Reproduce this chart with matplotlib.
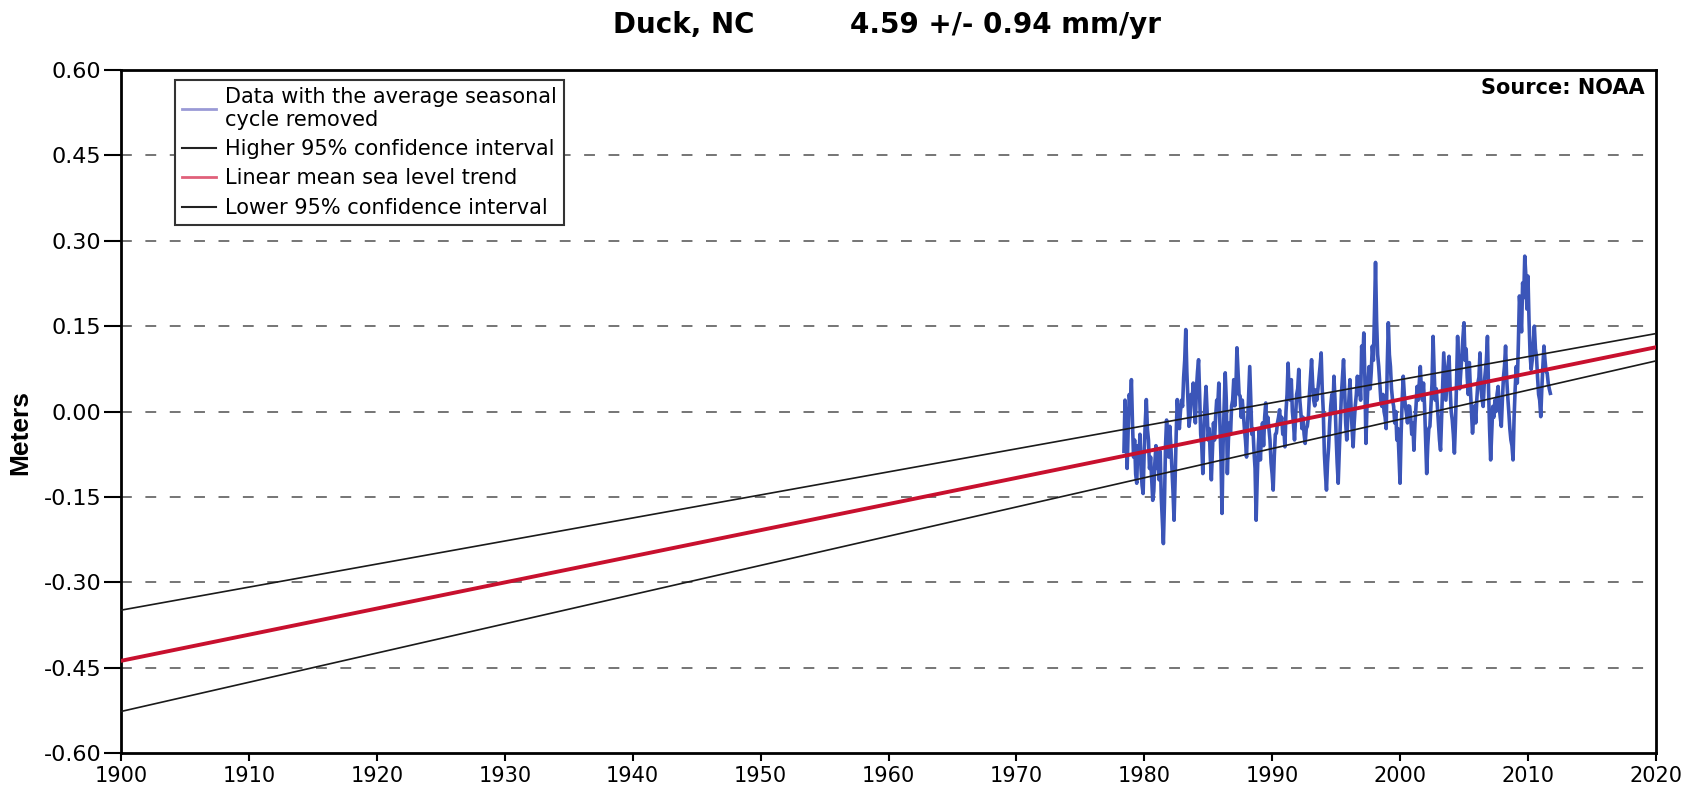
import numpy as np
import matplotlib.pyplot as plt
from matplotlib.lines import Line2D

# monthly mean sea level with the seasonal cycle removed (m)
start_year = 1978.4
sea_level = [
    -0.07, 0.02, -0.04, -0.10,
    -0.03, 0.03, 0.01, 0.056, -0.02, -0.08, -0.05, -0.11, -0.126, -0.06, -0.09, -0.04,
    -0.10, -0.13, -0.144, -0.07, -0.02, 0.021, -0.03, -0.05, -0.10, -0.08, -0.12, -0.156,
    -0.14, -0.09, -0.06, -0.10, -0.08, -0.12, -0.07, -0.15, -0.19, -0.232, -0.16, -0.06,
    -0.015, -0.05, -0.08, -0.026, -0.06, -0.10, -0.14, -0.191, -0.12, -0.04, 0.021, -0.01,
    -0.03, 0.00, 0.02, 0.009, 0.06, 0.09, 0.144, 0.07, 0.02, -0.026, -0.01, 0.03,
    0.02, 0.05, 0.01, -0.02, 0.04, 0.07, 0.091, 0.03, -0.04, -0.06, -0.109, -0.03,
    0.01, 0.044, 0.00, -0.05, -0.03, -0.08, -0.12, -0.07, -0.02, -0.05, -0.01, 0.02,
    0.01, 0.05, -0.02, -0.08, -0.179, -0.06, 0.01, 0.068, 0.02, -0.109, -0.05, -0.02,
    -0.04, 0.01, 0.02, 0.056, 0.01, 0.04, 0.112, 0.07, 0.03, 0.027, -0.01, 0.02,
    -0.003, -0.03, -0.05, -0.08, -0.02, 0.03, 0.079, 0.02, -0.04, -0.03, -0.07, -0.10,
    -0.191, -0.12, -0.06, -0.03, -0.085, -0.04, -0.02, -0.06, -0.01, 0.015, -0.02, -0.01,
    -0.03, -0.05, -0.09, -0.11, -0.138, -0.08, -0.04, -0.038, -0.02, -0.01, 0.003, -0.02,
    -0.01, -0.04, -0.03, -0.062, 0.00, 0.03, 0.085, 0.03, 0.02, 0.056, 0.00, -0.02,
    -0.05, -0.01, 0.03, 0.04, 0.074, 0.02, -0.003, -0.03, -0.01, -0.04, -0.056, -0.03,
    -0.026, -0.01, 0.03, 0.06, 0.091, 0.05, 0.02, 0.01, 0.038, 0.02, 0.04, 0.06,
    0.08, 0.103, 0.04, 0.00, -0.073, -0.11, -0.138, -0.09, -0.062, -0.02, 0.01, 0.03,
    0.00, 0.062, 0.02, -0.04, -0.09, -0.126, -0.07, -0.02, 0.03, 0.06, 0.091, 0.04,
    -0.02, -0.05, -0.01, 0.02, 0.056, 0.01, -0.03, -0.062, -0.02, 0.01, 0.03, 0.062,
    0.03, 0.06, 0.02, 0.115, 0.08, 0.138, 0.06, -0.056, 0.01, 0.05, 0.079, 0.04,
    0.07, 0.115, 0.09, 0.17, 0.262, 0.16, 0.10, 0.079, 0.05, 0.02, 0.009, 0.03,
    0.00, -0.01, -0.03, 0.08, 0.156, 0.10, 0.079, 0.04, 0.02, 0.009, -0.02, 0.00,
    -0.05, -0.03, -0.08, -0.126, -0.04, 0.02, 0.062, 0.03, 0.01, -0.003, -0.02, 0.01,
    0.009, -0.01, -0.04, -0.02, -0.068, -0.02, 0.01, 0.044, 0.02, 0.05, 0.079, 0.04,
    0.02, 0.05, 0.01, -0.05, -0.109, -0.06, -0.03, -0.026, 0.01, 0.05, 0.132, 0.07,
    0.02, 0.04, 0.009, -0.02, -0.05, -0.068, -0.01, 0.05, 0.103, 0.06, 0.02, 0.05,
    0.08, 0.097, 0.04, 0.00, -0.015, -0.04, -0.073, -0.02, 0.05, 0.132, 0.08, 0.04,
    0.07, 0.10, 0.13, 0.156, 0.09, 0.11, 0.06, 0.03, 0.086, 0.04, 0.00, -0.038,
    -0.01, 0.01, -0.02, 0.021, 0.05, 0.06, 0.103, 0.04, 0.02, 0.009, 0.05, 0.07,
    0.09, 0.132, 0.04, -0.03, -0.085, -0.04, 0.009, -0.01, 0.02, 0.00, 0.03, 0.044,
    0.01, -0.01, -0.026, 0.02, 0.06, 0.08, 0.115, 0.06, 0.027, 0.00, -0.03, -0.05,
    -0.06, -0.085, -0.01, 0.04, 0.079, 0.05, 0.12, 0.203, 0.17, 0.14, 0.226, 0.20,
    0.273, 0.24, 0.18, 0.238, 0.16, 0.10, 0.074, 0.09, 0.12, 0.15, 0.11, 0.097,
    0.06, 0.03, 0.02, -0.009, 0.04, 0.08, 0.115, 0.09, 0.07, 0.068, 0.05, 0.04,
    0.032,
]

# trend and 95% confidence lines, end points at 1900 and 2020
trend_years = [1900, 2020]
trend = [-0.438, 0.113]
upper_ci = [-0.349, 0.137]
lower_ci = [-0.527, 0.089]

station = "Duck, NC"
rate_text = "4.59 +/- 0.94 mm/yr"
legend_labels = [
    "Data with the average seasonal\ncycle removed",
    "Higher 95% confidence interval",
    "Linear mean sea level trend",
    "Lower 95% confidence interval",
]
y_ticks = [-0.60, -0.45, -0.30, -0.15, 0.00, 0.15, 0.30, 0.45, 0.60]
x_ticks = list(range(1900, 2021, 10))

years = start_year + np.arange(len(sea_level)) / 12.0

fig = plt.figure(figsize=(16.93, 7.95), dpi=100)
ax = fig.add_axes([0.0715, 0.0528, 0.9067, 0.8591])

for v in y_ticks[1:-1]:
    ax.axhline(v, color="#6a6a6a", lw=1.3, dashes=(6, 7.5), zorder=1)

ax.plot(years, sea_level, color="#3b55b8", lw=2.6, zorder=2)
ax.plot(trend_years, upper_ci, color="#1a1a1a", lw=1.2, zorder=3)
ax.plot(trend_years, lower_ci, color="#1a1a1a", lw=1.2, zorder=3)
ax.plot(trend_years, trend, color="#c8102e", lw=2.8, zorder=4)

ax.set_xlim(1900, 2020)
ax.set_ylim(-0.60, 0.60)
ax.set_xticks(x_ticks)
ax.set_yticks(y_ticks)
ax.set_yticklabels([f"{v:.2f}" for v in y_ticks])
ax.tick_params(axis="y", direction="out", length=12, width=1.5, pad=2, labelsize=16)
ax.tick_params(axis="x", direction="out", length=5.5, width=1.5, pad=4, labelsize=15)
for sp in ax.spines.values():
    sp.set_linewidth(2)

ax.set_ylabel("Meters", family="Liberation Sans", fontweight="bold", fontsize=19)
ax.yaxis.set_label_coords(-0.058, 0.47)

handles = [
    Line2D([], [], color="#9a9ad6", lw=2),
    Line2D([], [], color="#222222", lw=1.5),
    Line2D([], [], color="#e0607a", lw=2),
    Line2D([], [], color="#222222", lw=1.5),
]
leg = ax.legend(handles, legend_labels, loc="upper left",
                bbox_to_anchor=(0.0352, 0.9854), borderaxespad=0,
                fancybox=False, framealpha=1, edgecolor="#333333",
                fontsize=15, handlelength=1.6, handletextpad=0.45,
                borderpad=0.35, labelspacing=0.45)
leg.get_frame().set_linewidth(1.5)
for t in leg.get_texts():
    t.set_linespacing(1.15)

ax.text(0.9928, 0.974, "Source: NOAA", transform=ax.transAxes, ha="right",
        va="center", fontsize=15, fontweight="bold")

fig.text(613 / 1693, 1 - 25 / 795, station, ha="left", va="center",
         fontsize=20, fontweight="bold")
fig.text(850 / 1693, 1 - 25 / 795, rate_text, ha="left", va="center",
         fontsize=20, fontweight="bold")

fig.savefig("out.png", dpi=100)
